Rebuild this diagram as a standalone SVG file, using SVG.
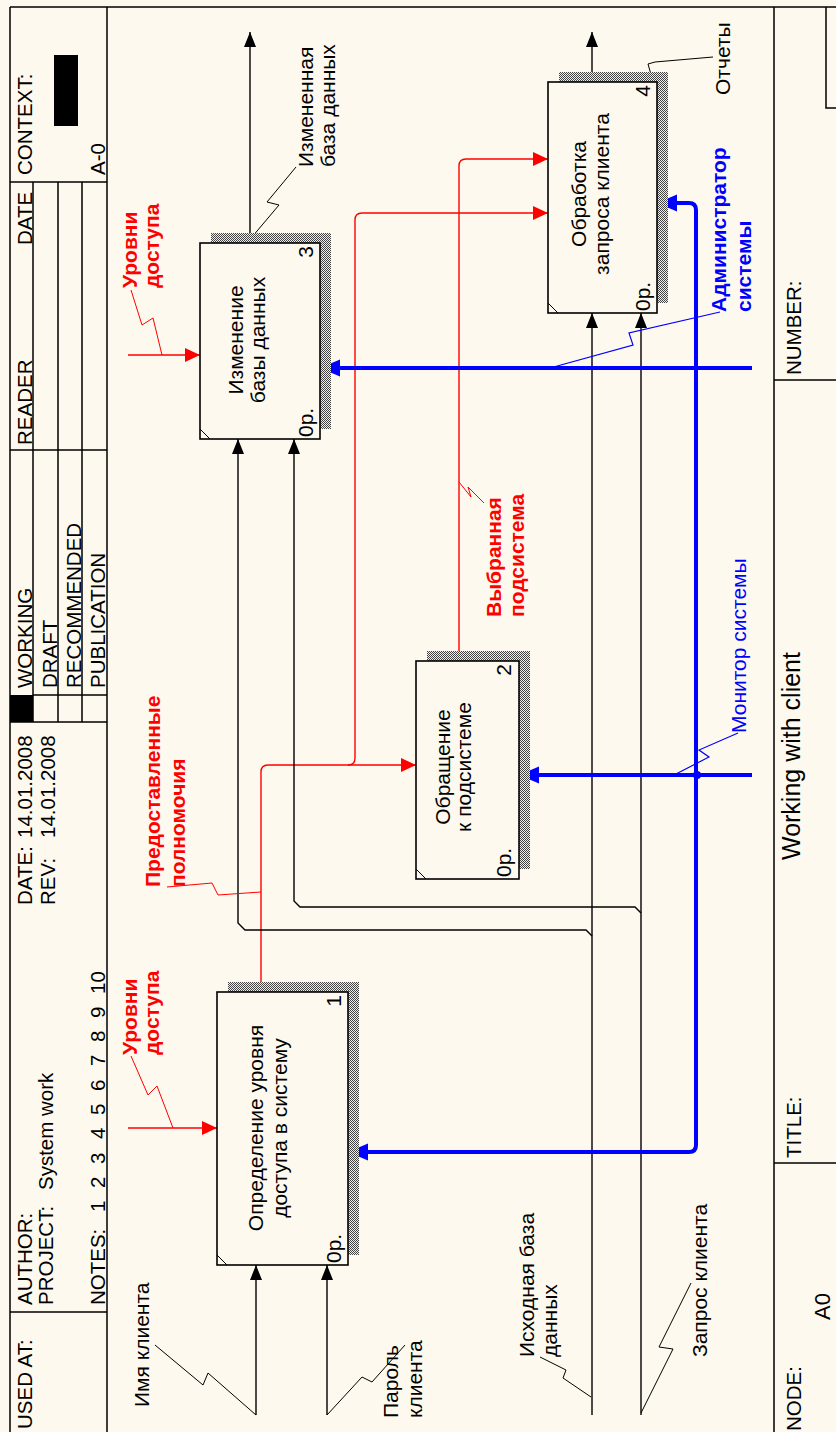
<svg xmlns="http://www.w3.org/2000/svg" width="836" height="1432" viewBox="0 0 836 1432">
<defs>
<style>
.t{font-family:"Liberation Sans",Arial,sans-serif;fill:#000}
.h{font-size:20.5px}
.n{font-size:21px}
.big{font-size:25px}
.rl{fill:#ff0000;font-weight:bold}
.bl{fill:#0000ff}
.blb{fill:#0000ff;font-weight:bold}
.fr{stroke:#000;stroke-width:1.5;fill:none}
.box{stroke:#000;stroke-width:1.6;fill:#fdf9ee}
.sh{fill:url(#hatch);stroke:none}
.ck{stroke:#000;stroke-width:1.4;fill:none}
.cr{stroke:#ff0000;stroke-width:1.4;fill:none}
.cb{stroke:#0000ff;stroke-width:4;fill:none}
.sk{stroke:#000;stroke-width:1;fill:none}
.sr{stroke:#ff0000;stroke-width:1;fill:none}
.sb{stroke:#0000ff;stroke-width:1.2;fill:none}
</style>
<pattern id="hatch" width="2" height="2" patternUnits="userSpaceOnUse">
<rect width="2" height="2" fill="#eeeeee"/>
<rect width="1" height="1" fill="#444"/>
<rect x="1" y="1" width="1" height="1" fill="#444"/>
</pattern>
<marker id="ak" markerUnits="userSpaceOnUse" markerWidth="16" markerHeight="13" refX="15" refY="6" orient="auto"><path d="M0,0 L15,6 L0,12 z" fill="#000"/></marker>
<marker id="ar" markerUnits="userSpaceOnUse" markerWidth="16" markerHeight="15" refX="15" refY="7" orient="auto"><path d="M0,0 L15,7 L0,14 z" fill="#ff0000"/></marker>
<marker id="ab" markerUnits="userSpaceOnUse" markerWidth="21" markerHeight="18" refX="14" refY="8.5" orient="auto"><path d="M0,0 L20,8.5 L0,17 z" fill="#0000ff"/></marker>
</defs>
<rect width="836" height="1432" fill="#fdf9ee"/>

<g id="frame">
<path class="fr" d="M10,7 H836 M10,7 V1432 M107,7 V1432 M774,7 V1432"/>
<path class="fr" d="M10,182 H107 M10,450 H107 M10,722 H107 M10,1312 H107 M33,182 V722 M58,182 V722 M82,182 V722 M33,695 H107"/>
<path class="fr" d="M774,380 H836 M774,1163 H836 M826,7 V108 H836"/>
<rect x="54" y="55" width="24" height="71" fill="#000"/>
<rect x="10" y="695" width="23" height="27" fill="#000"/>
<text class="t h" transform="translate(32,175) rotate(-90)">CONTEXT:</text>
<text class="t h" transform="translate(105,175) rotate(-90)">A-0</text>
<text class="t h" transform="translate(32,245) rotate(-90)">DATE</text>
<text class="t h" transform="translate(32,445) rotate(-90)">READER</text>
<text class="t h" transform="translate(32,688) rotate(-90)">WORKING</text>
<text class="t h" transform="translate(57,688) rotate(-90)">DRAFT</text>
<text class="t h" transform="translate(81,688) rotate(-90)">RECOMMENDED</text>
<text class="t h" transform="translate(105,688) rotate(-90)">PUBLICATION</text>
<text class="t h" transform="translate(32,905) rotate(-90)">DATE:<tspan x="67">14.01.2008</tspan></text>
<text class="t h" transform="translate(55,905) rotate(-90)">REV:<tspan x="67">14.01.2008</tspan></text>
<text class="t h" transform="translate(32,1305) rotate(-90)">AUTHOR:</text>
<text class="t h" transform="translate(53,1305) rotate(-90)">PROJECT:<tspan x="115">System work</tspan></text>
<text class="t h" transform="translate(105,1305) rotate(-90)">NOTES:<tspan x="93">1</tspan><tspan x="117">2</tspan><tspan x="141">3</tspan><tspan x="166">4</tspan><tspan x="190">5</tspan><tspan x="214">6</tspan><tspan x="239">7</tspan><tspan x="263">8</tspan><tspan x="287">9</tspan><tspan x="311">10</tspan></text>
<text class="t h" transform="translate(32,1429) rotate(-90)">USED AT:</text>
<text class="t h" transform="translate(801,375) rotate(-90)">NUMBER:</text>
<text class="t big" transform="translate(800,860) rotate(-90)">Working with client</text>
<text class="t h" transform="translate(801,1158) rotate(-90)">TITLE:</text>
<text class="t h" transform="translate(801,1431) rotate(-90)">NODE:</text>
<text class="t" style="font-size:22px" transform="translate(830,1320) rotate(-90)">A0</text>
</g>

<g id="connectors">
<path class="cr" d="M261,992 V772 Q261,765 268,765 H416" marker-end="url(#ar)"/>
<path class="cr" d="M348,765 Q355,765 355,758 V220 Q355,213 362,213 H548" marker-end="url(#ar)"/>
<path class="cr" d="M459,661 V166 Q459,159 466,159 H548" marker-end="url(#ar)"/>
<path class="cr" d="M128,1128 H217" marker-end="url(#ar)"/>
<path class="cr" d="M128,355 H200" marker-end="url(#ar)"/>
<path class="ck" d="M250,243 V32" marker-end="url(#ak)"/>
<path class="ck" d="M592,82 V32" marker-end="url(#ak)"/>
<path class="ck" d="M256,1415 V1265" marker-end="url(#ak)"/>
<path class="ck" d="M327,1415 V1265" marker-end="url(#ak)"/>
<path class="ck" d="M592,1415 V313" marker-end="url(#ak)"/>
<path class="ck" d="M641,1415 V313" marker-end="url(#ak)"/>
<path class="ck" d="M592,936 L586,930 H245 L238,923 V439" marker-end="url(#ak)"/>
<path class="ck" d="M641,913 L635,907 H300 L294,901 V439" marker-end="url(#ak)"/>
<path class="cb" d="M752,368 H326" marker-end="url(#ab)"/>
<path class="cb" d="M752,775 H525" marker-end="url(#ab)"/>
<path class="cb" d="M696,775 V210 Q696,203 689,203 H663" marker-end="url(#ab)"/>
<path class="cb" d="M696,775 V1145 Q696,1152 689,1152 H354" marker-end="url(#ab)"/>
<circle cx="697" cy="775" r="4" fill="#0000ff"/>
<path class="sk" d="M252,237 L279,205 L267,202 L296,167"/>
<path class="sk" d="M593,80 L652,78 L648,64 L655,62 L713,57"/>
<path class="sk" d="M256,1415 L208,1373 L203,1385 L155,1345"/>
<path class="sk" d="M327,1415 L362,1377 L372,1382 L405,1345"/>
<path class="sk" d="M540,1357 L566,1370 L563,1378 L591,1397"/>
<path class="sk" d="M691,1283 L659,1347 L673,1349 L641,1413"/>
<path class="sr" d="M173,1128 L157,1086 L148,1095 L131,1056"/>
<path class="sr" d="M162,355 L153,318 L142,325 L131,290"/>
<path class="sr" d="M261,892 L218,895 L212,883 L167,887"/>
<path class="sr" d="M459,482 L471,497 L468,487 L484,503"/>
<path class="sb" d="M550,368 L633,345 L629,333 L720,312"/>
<path class="sb" d="M674,775 L709,757 L699,750 L738,733"/>
<text class="t n" transform="translate(149,1407) rotate(-90)">Имя клиента</text>
<text class="t n" transform="translate(398,1418) rotate(-90)">Пароль<tspan x="0" y="24">клиента</tspan></text>
<text class="t n" transform="translate(534,1357) rotate(-90)">Исходная база<tspan x="0" y="23">данных</tspan></text>
<text class="t n" transform="translate(707,1357) rotate(-90)">Запрос клиента</text>
<text class="t n rl" transform="translate(137,1055) rotate(-90)">Уровни<tspan x="0" y="22">доступа</tspan></text>
<text class="t n rl" transform="translate(137,288) rotate(-90)">Уровни<tspan x="0" y="22">доступа</tspan></text>
<text class="t n rl" transform="translate(160,887) rotate(-90)">Предоставленные<tspan x="0" y="25">полномочия</tspan></text>
<text class="t n rl" transform="translate(501,617) rotate(-90)">Выбранная<tspan x="0" y="23">подсистема</tspan></text>
<text class="t n blb" transform="translate(726,312) rotate(-90)">Администратор<tspan x="0" y="25">системы</tspan></text>
<text class="t n bl" transform="translate(746,733) rotate(-90)">Монитор системы</text>
<text class="t n" transform="translate(313,167) rotate(-90)">Измененная<tspan x="0" y="22">база данных</tspan></text>
<text class="t n" transform="translate(730,95) rotate(-90)">Отчеты</text>
</g>

<g id="node1">
<rect class="sh" x="228" y="982" width="131" height="273"/>
<rect class="box" x="217" y="992" width="131" height="273"/>
<path class="sk" d="M217,1255 L227,1265"/>
<text class="t n" text-anchor="middle" transform="translate(263,1128) rotate(-90)">Определение уровня<tspan x="0" y="24">доступа в систему</tspan></text>
<text class="t n" text-anchor="end" transform="translate(341,995) rotate(-90)">1</text>
<text class="t n" transform="translate(341,1263) rotate(-90)">0р.</text>
</g>

<g id="node2">
<rect class="sh" x="427" y="651" width="103" height="218"/>
<rect class="box" x="416" y="661" width="103" height="218"/>
<path class="sk" d="M416,869 L426,879"/>
<text class="t n" text-anchor="middle" transform="translate(450,767) rotate(-90)">Обращение<tspan x="0" y="21">к подсистеме</tspan></text>
<text class="t n" text-anchor="end" transform="translate(511,664) rotate(-90)">2</text>
<text class="t n" transform="translate(511,877) rotate(-90)">0р.</text>
</g>

<g id="node3">
<rect class="sh" x="211" y="233" width="120" height="196"/>
<rect class="box" x="200" y="243" width="120" height="196"/>
<path class="sk" d="M200,429 L210,439"/>
<text class="t n" text-anchor="middle" transform="translate(243,340) rotate(-90)">Изменение<tspan x="0" y="22">базы данных</tspan></text>
<text class="t n" text-anchor="end" transform="translate(313,246) rotate(-90)">3</text>
<text class="t n" transform="translate(313,437) rotate(-90)">0р.</text>
</g>

<g id="node4">
<rect class="sh" x="559" y="72" width="109" height="231"/>
<rect class="box" x="548" y="82" width="109" height="231"/>
<path class="sk" d="M548,303 L558,313"/>
<text class="t n" text-anchor="middle" transform="translate(586,194) rotate(-90)">Обработка<tspan x="0" y="23">запроса клиента</tspan></text>
<text class="t n" text-anchor="end" transform="translate(650,85) rotate(-90)">4</text>
<text class="t n" transform="translate(650,311) rotate(-90)">0р.</text>
</g>
</svg>
